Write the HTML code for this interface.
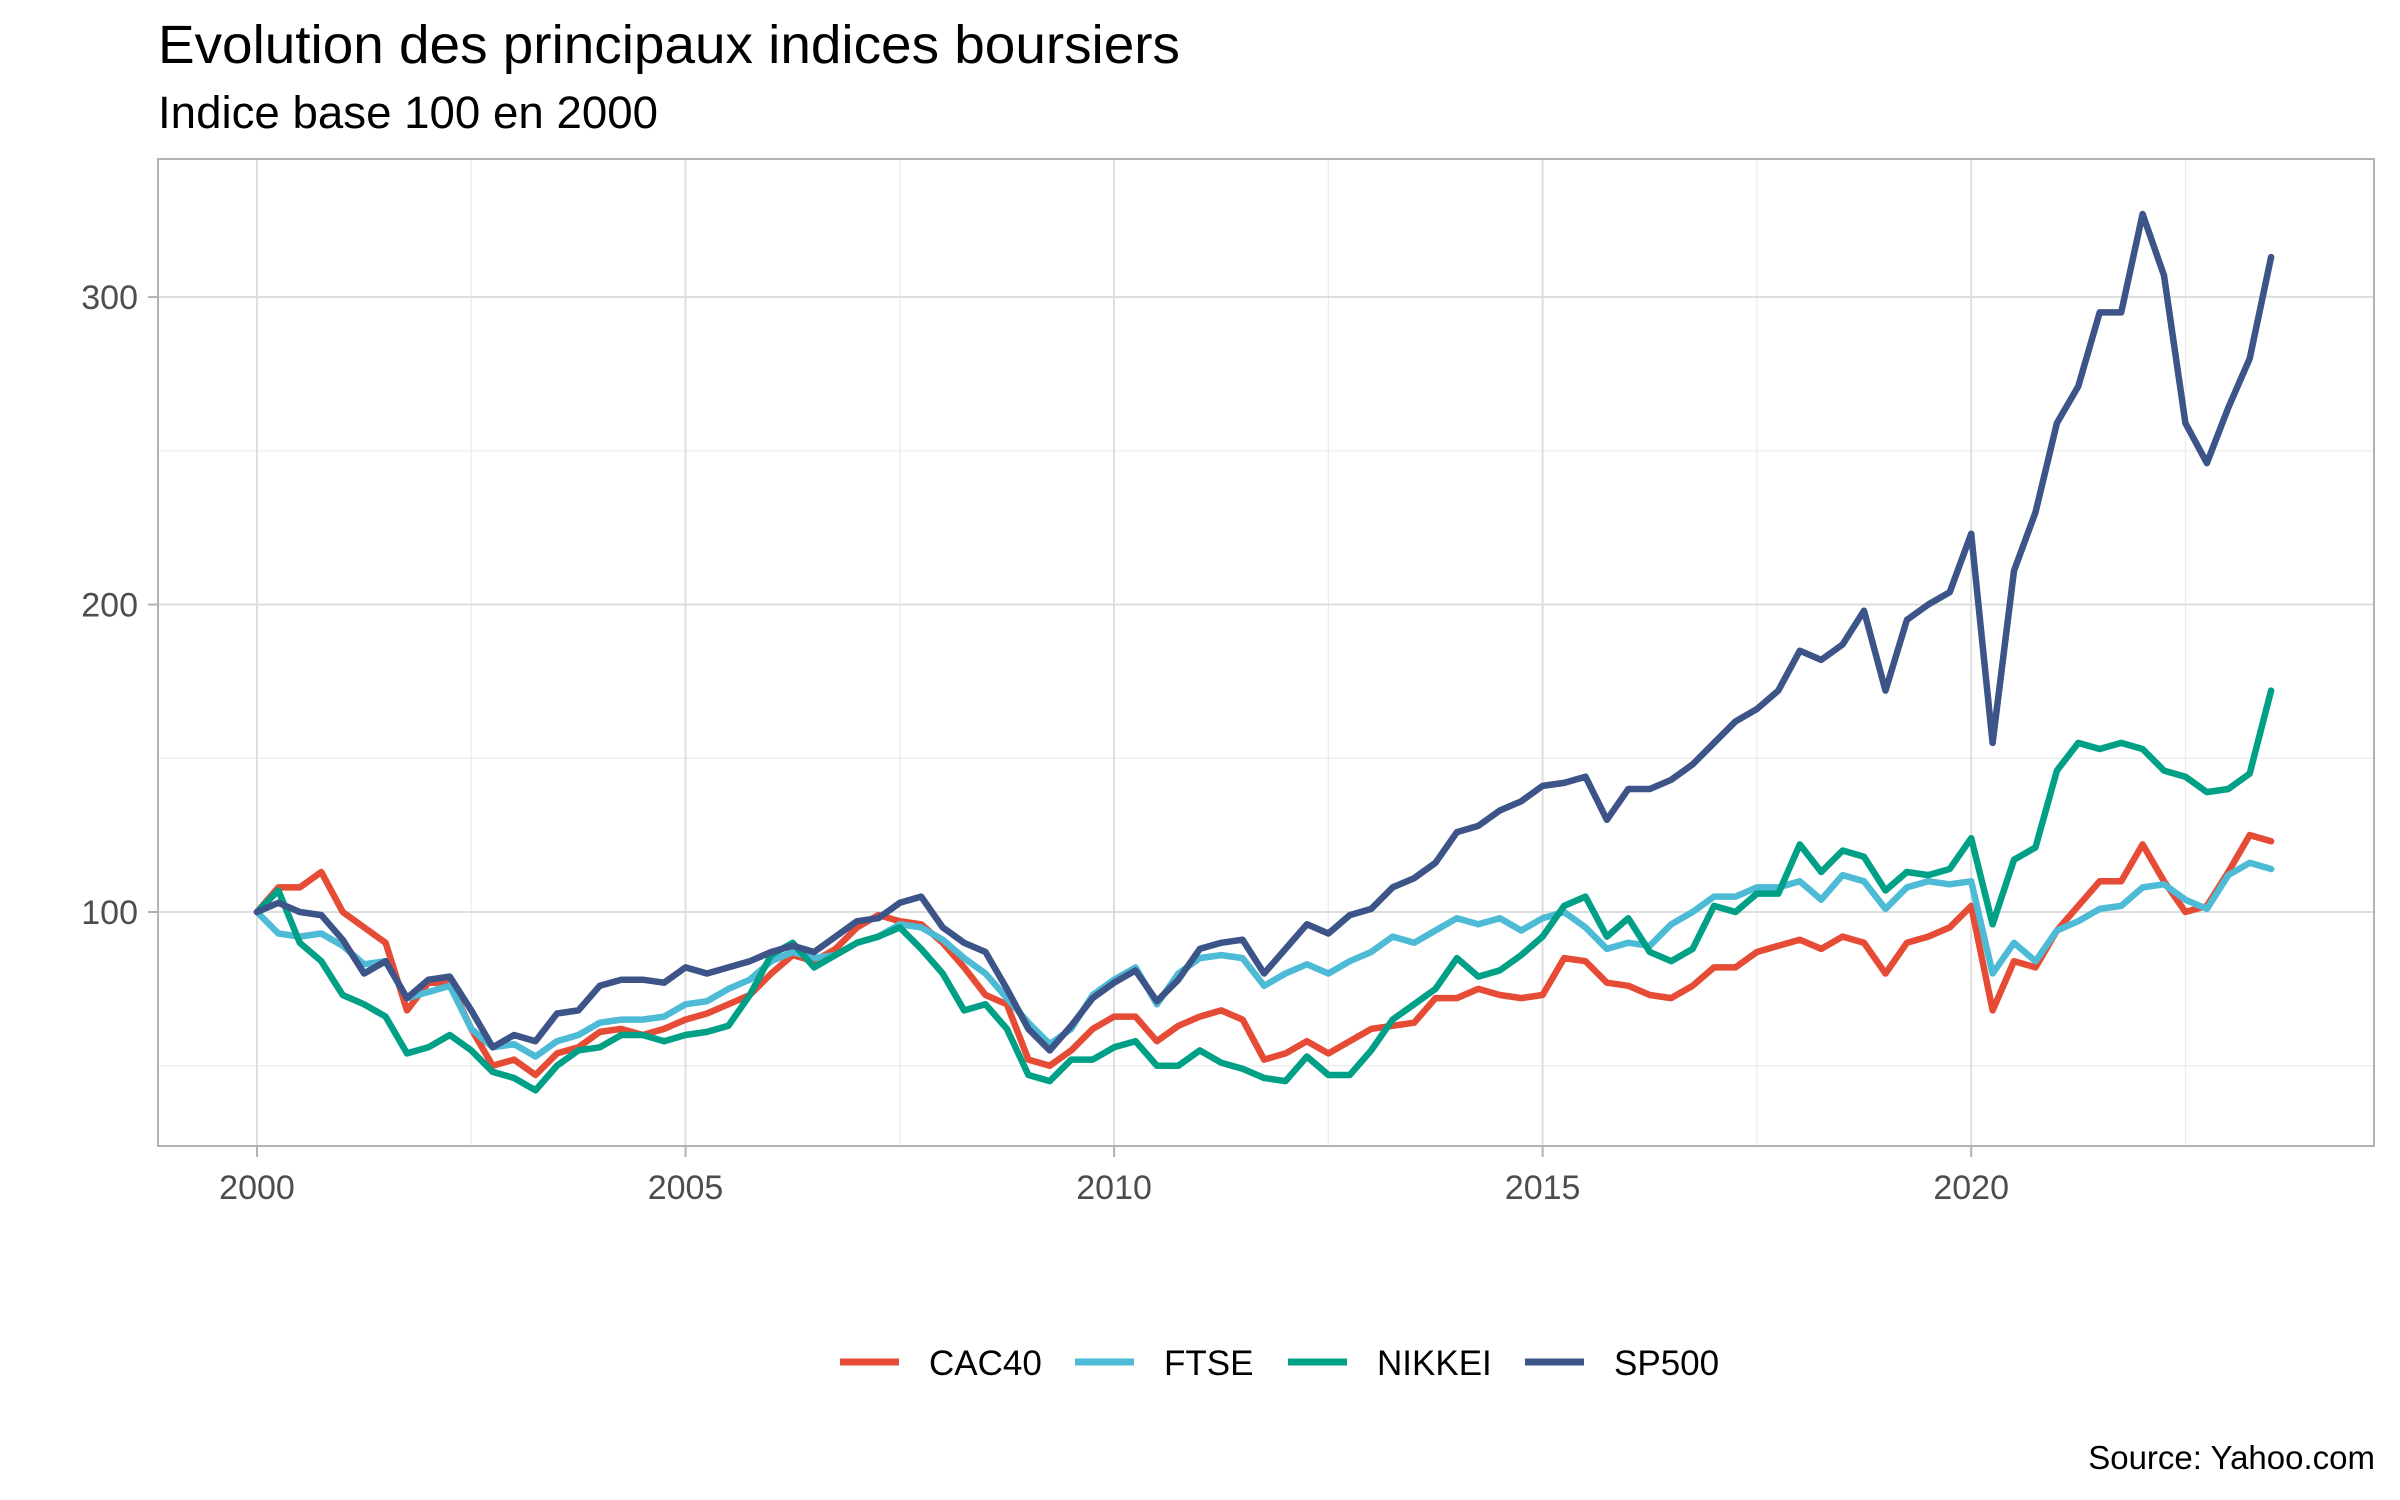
<!DOCTYPE html>
<html><head><meta charset="utf-8"><style>
html,body{margin:0;padding:0;background:#fff;}
svg{display:block;font-family:"Liberation Sans",Arial,sans-serif;}
</style></head><body>
<svg id="chart" width="2400" height="1500" viewBox="0 0 2400 1500" xmlns="http://www.w3.org/2000/svg">
<rect width="2400" height="1500" fill="#fff"/>
<text x="158" y="63" font-size="54" fill="#000" textLength="1022" lengthAdjust="spacingAndGlyphs">Evolution des principaux indices boursiers</text>
<text x="158" y="128" font-size="45" fill="#000" textLength="500" lengthAdjust="spacingAndGlyphs">Indice base 100 en 2000</text>
<g id="grid"></g>
<g id="series"></g>
<rect x="158" y="159" width="2216" height="987" fill="none" stroke="#b3b3b3" stroke-width="2"/>
<g id="axes"></g>
<g id="legend"></g>
<text x="2375" y="1469" font-size="33" text-anchor="end" fill="#000">Source: Yahoo.com</text>
</svg>
<script>
const dates = [];
for (let i = 0; i <= 94; i++) dates.push(2000 + i * 0.25);
const seriesNames = ["CAC40", "FTSE", "NIKKEI", "SP500"];
const seriesColors = ["#E64B35", "#4DBBD5", "#00A087", "#3C5488"];
const cac40 = [100,108,108,113, 100,95,90,68, 77,77,62,50, 52,47,54,56, 61,62,60,62, 65,67,70,73, 80,86,84,88, 95,99,97,96, 90,82,73,70, 52,50,55,62, 66,66,58,63, 66,68,65,52, 54,58,54,58, 62,63,64,72, 72,75,73,72, 73,85,84,77, 76,73,72,76, 82,82,87,89, 91,88,92,90, 80,90,92,95, 102,68,84,82, 94,102,110,110, 122,110,100,102, 113,125,123];
const ftse = [100,93,92,93, 89,83,84,72, 74,76,62,56, 57,53,58,60, 64,65,65,66, 70,71,75,78, 84,87,85,86, 90,92,96,95, 91,85,80,72, 64,57,62,73, 78,82,70,80, 85,86,85,76, 80,83,80,84, 87,92,90,94, 98,96,98,94, 98,100,95,88, 90,89,96,100, 105,105,108,108, 110,104,112,110, 101,108,110,109, 110,80,90,84, 94,97,101,102, 108,109,104,101, 112,116,114];
const nikkei = [100,107,90,84, 73,70,66,54, 56,60,55,48, 46,42,50,55, 56,60,60,58, 60,61,63,73, 86,90,82,86, 90,92,95,88, 80,68,70,62, 47,45,52,52, 56,58,50,50, 55,51,49,46, 45,53,47,47, 55,65,70,75, 85,79,81,86, 92,102,105,92, 98,87,84,88, 102,100,106,106, 122,113,120,118, 107,113,112,114, 124,96,117,121, 146,155,153,155, 153,146,144,139, 140,145,172];
const sp500 = [100,103,100,99, 91,80,84,72, 78,79,68,56, 60,58,67,68, 76,78,78,77, 82,80,82,84, 87,89,87,92, 97,98,103,105, 95,90,87,75, 62,55,63,72, 77,81,71,78, 88,90,91,80, 88,96,93,99, 101,108,111,116, 126,128,133,136, 141,142,144,130, 140,140,143,148, 155,162,166,172, 185,182,187,198, 172,195,200,204, 223,155,211,230, 259,271,295,295, 327,307,259,246, 264,280,313];
const allSeries = [cac40, ftse, nikkei, sp500];
const yMajor = [100, 200, 300];
const yMinor = [50, 150, 250];
const xMajor = [2000, 2005, 2010, 2015, 2020];
const xMinor = [2002.5, 2007.5, 2012.5, 2017.5, 2022.5];

const NS = "http://www.w3.org/2000/svg";
const X0 = 158, X1 = 2374, Y0 = 159, Y1 = 1146;
const xMin = 1998.845, xMaxV = 2024.70, yMinV = 23.9, yMaxV = 344.9;
function xs(t) { return X0 + (t - xMin) / (xMaxV - xMin) * (X1 - X0); }
function ys(v) { return Y1 - (v - yMinV) / (yMaxV - yMinV) * (Y1 - Y0); }
function mk(tag, attrs, parent) {
  const e = document.createElementNS(NS, tag);
  for (const k in attrs) e.setAttribute(k, attrs[k]);
  parent.appendChild(e);
  return e;
}
const grid = document.getElementById("grid");
const axes = document.getElementById("axes");
yMinor.forEach(v => {
  const l = mk("line", {x1: X0, x2: X1, y1: ys(v), y2: ys(v), stroke: "#ebebeb", "stroke-width": 1.2}, grid);
  
  
});
xMinor.forEach(t => {
  const l = mk("line", {x1: xs(t), x2: xs(t), y1: Y0, y2: Y1, stroke: "#ebebeb", "stroke-width": 1.2}, grid);
  
  
});
yMajor.forEach(v => {
  const l = mk("line", {x1: X0, x2: X1, y1: ys(v), y2: ys(v), stroke: "#dedede", "stroke-width": 2}, grid);
  
  
  const tk = mk("line", {x1: X0 - 10, x2: X0, y1: ys(v), y2: ys(v), stroke: "#b3b3b3", "stroke-width": 2}, axes);
  
  
  const tx = mk("text", {x: 138, y: ys(v) + 12, "font-size": 34, fill: "#4d4d4d", "text-anchor": "end"}, axes);
  tx.textContent = String(v);
  
  
});
xMajor.forEach(t => {
  const l = mk("line", {x1: xs(t), x2: xs(t), y1: Y0, y2: Y1, stroke: "#dedede", "stroke-width": 2}, grid);
  
  
  const tk = mk("line", {x1: xs(t), x2: xs(t), y1: Y1, y2: Y1 + 11, stroke: "#b3b3b3", "stroke-width": 2}, axes);
  
  
  const tx = mk("text", {x: xs(t), y: 1199, "font-size": 34, fill: "#4d4d4d", "text-anchor": "middle"}, axes);
  tx.textContent = String(t);
  
  
});
const sg = document.getElementById("series");
allSeries.forEach((vals, si) => {
  const d = vals.map((v, i) => (i ? "L" : "M") + xs(dates[i]).toFixed(1) + "," + ys(v).toFixed(1)).join("");
  const p = mk("path", {d: d, fill: "none", stroke: seriesColors[si], "stroke-width": 6.5, "stroke-linejoin": "round", "stroke-linecap": "round"}, sg);
  
  
});
const lg = document.getElementById("legend");
const keyX = [840, 1075, 1288, 1525];
seriesNames.forEach((n, i) => {
  const g = mk("g", {}, lg);
  
  
  mk("line", {x1: keyX[i], x2: keyX[i] + 59, y1: 1362, y2: 1362, stroke: seriesColors[i], "stroke-width": 7}, g);
  const t = mk("text", {x: keyX[i] + 89, y: 1375, "font-size": 35, fill: "#000"}, g);
  t.textContent = n;
});
</script>
</body></html>
